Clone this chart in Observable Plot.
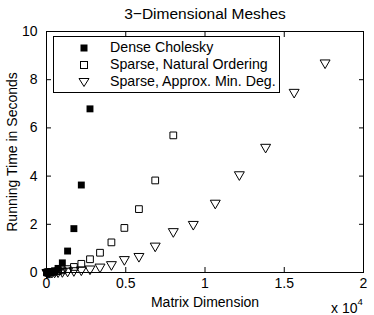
<!DOCTYPE html>
<html>
<head>
<meta charset="utf-8">
<script src="https://cdn.jsdelivr.net/npm/d3@7"></script>
<script src="https://cdn.jsdelivr.net/npm/@observablehq/plot@0.6"></script>
<style>
  html, body { margin: 0; padding: 0; background: #fff; }
  #wrap { position: relative; width: 374px; height: 315px; font-family: "Liberation Sans", Arial, sans-serif; color: #000; }
  #legend { position: absolute; left: 53px; top: 36px; width: 227px; height: 57px; box-sizing: border-box;
            border: 1px solid #000; background: #fff; font-size: 14.2px; }
  .row { position: absolute; left: 0; height: 17px; line-height: 17px; white-space: nowrap; }
  .row svg { position: absolute; left: 23px; top: 2px; }
  .row span { position: absolute; left: 56px; top: 0; }
</style>
</head>
<body>
<div id="wrap"></div>
<script>
// ---- data ----
const title = "3\u2212Dimensional Meshes";
const xLabel = "Matrix Dimension";
const yLabel = "Running Time in Seconds";
const seriesNames = ["Dense Cholesky", "Sparse, Natural Ordering", "Sparse, Approx. Min. Deg."];

const xTicks = [0, 5000, 10000, 15000, 20000];
const xTickLabels = ["0", "0.5", "1", "1.5", "2"];
const yTicks = [0, 2, 4, 6, 8, 10];
const yTickLabels = ["0", "2", "4", "6", "8", "10"];

const denseX = [27, 64, 125, 216, 343, 512, 729, 1000, 1331, 1728, 2197, 2744];
const denseY = [0.001, 0.002, 0.005, 0.01, 0.03, 0.07, 0.17, 0.40, 0.89, 1.82, 3.63, 6.79];

const naturalX = [27, 64, 125, 216, 343, 512, 729, 1000, 1331, 1728, 2197, 2744, 3375, 4096, 4913, 5832, 6859, 8000];
const naturalY = [0.001, 0.003, 0.006, 0.012, 0.02, 0.035, 0.06, 0.09, 0.14, 0.23, 0.36, 0.55, 0.82, 1.25, 1.85, 2.63, 3.82, 5.69];

const amdX = [27, 64, 125, 216, 343, 512, 729, 1000, 1331, 1728, 2197, 2744, 3375, 4096, 4913, 5832, 6859, 8000, 9261, 10648, 12167, 13824, 15625, 17576];
const amdY = [0.001, 0.002, 0.004, 0.007, 0.012, 0.02, 0.03, 0.04, 0.06, 0.08, 0.11, 0.15, 0.23, 0.33, 0.54, 0.67, 1.10, 1.70, 2.00, 2.88, 4.06, 5.20, 7.48, 8.70];

// ---- tables ----
const dense = denseX.map((x, i) => ({x, y: denseY[i]}));
const natural = naturalX.map((x, i) => ({x, y: naturalY[i]}));
const amd = amdX.map((x, i) => ({x, y: amdY[i]}));
const xFmt = d => xTickLabels[xTicks.indexOf(d)];
const yFmt = d => yTickLabels[yTicks.indexOf(d)];

const font = "Liberation Sans, Arial, sans-serif";

const chart = Plot.plot({
  width: 374,
  height: 315,
  marginLeft: 46,
  marginRight: 11,
  marginTop: 31,
  marginBottom: 43,
  style: {fontFamily: font, fontSize: "14px", background: "#fff", color: "#000", overflow: "visible"},
  x: {domain: [0, 20000]},
  y: {domain: [0, 10]},
  marks: [
    Plot.axisX(xTicks, {anchor: "bottom", tickSize: -5, tickPadding: 11, tickFormat: xFmt, label: null, fontSize: 14}),
    Plot.axisX(xTicks, {anchor: "top", tickSize: -5, fill: "none", label: null}),
    Plot.axisY(yTicks, {anchor: "left", tickSize: -5, tickPadding: 14, tickFormat: yFmt, label: null, fontSize: 14}),
    Plot.axisY(yTicks, {anchor: "right", tickSize: -5, fill: "none", label: null}),
    Plot.frame({stroke: "#000", strokeWidth: 1}),
    Plot.dot(dense, {x: "x", y: "y", symbol: "square", fill: "#000", stroke: "none", r: 3.9}),
    Plot.dot(natural, {x: "x", y: "y", symbol: "square", fill: "none", stroke: "#000", strokeWidth: 1, r: 3.8}),
    Plot.dot(amd, {x: "x", y: "y", symbol: "triangle", rotate: 180, fill: "none", stroke: "#000", strokeWidth: 1, r: 3.7}),
    Plot.text([title], {frameAnchor: "top", dy: -17, textAnchor: "middle", lineAnchor: "middle", fontSize: 15.5, fill: "#000"}),
    Plot.text([xLabel], {frameAnchor: "bottom", dy: 30, textAnchor: "middle", lineAnchor: "middle", fontSize: 14, fill: "#000"}),
    Plot.text([yLabel], {frameAnchor: "left", dx: -34, rotate: -90, textAnchor: "middle", lineAnchor: "middle", fontSize: 14, fill: "#000"}),
    Plot.text(["x 10"], {frameAnchor: "bottom-right", dx: -6, dy: 36, textAnchor: "end", lineAnchor: "middle", fontSize: 14, fill: "#000"}),
    Plot.text(["4"], {frameAnchor: "bottom-right", dx: -6, dy: 29, textAnchor: "start", lineAnchor: "middle", fontSize: 9.5, fill: "#000"})
  ]
});

const wrap = document.getElementById("wrap");
wrap.appendChild(chart);

// ---- legend (inside the axes, upper left) ----
const legend = document.createElement("div");
legend.id = "legend";
const markerSvgs = [
  '<svg width="14" height="14"><rect x="3.5" y="3.5" width="7" height="7" fill="#000"/></svg>',
  '<svg width="14" height="14"><rect x="3.5" y="3.5" width="7" height="7" fill="none" stroke="#000" stroke-width="1"/></svg>',
  '<svg width="14" height="14"><path d="M2,3.5 L12,3.5 L7,11.5 Z" fill="none" stroke="#000" stroke-width="1"/></svg>'
];
seriesNames.forEach((name, i) => {
  const row = document.createElement("div");
  row.className = "row";
  row.style.top = (2 + i * 17) + "px";
  row.innerHTML = markerSvgs[i] + "<span></span>";
  row.querySelector("span").textContent = name;
  legend.appendChild(row);
});
wrap.appendChild(legend);
</script>
</body>
</html>
